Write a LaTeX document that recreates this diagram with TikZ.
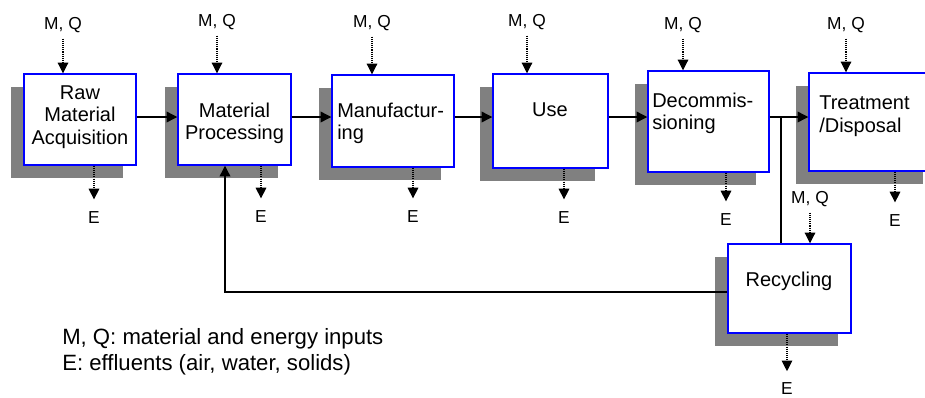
\documentclass[tikz,border=0pt]{standalone}
\usepackage{fontspec}
\setmainfont{Liberation Sans}
\usetikzlibrary{arrows.meta,shadows}

\begin{document}
\begin{tikzpicture}[x=0.75pt, y=-0.75pt,
        stage/.style 2 args={draw=blue, line width=1.1pt, fill=white, inner sep=0pt,
            minimum width=#1*0.75pt, minimum height=#2*0.75pt,
            general shadow={fill=gray, shadow xshift=-9.75pt, shadow yshift=-9.75pt}},
        stagetext/.style={font=\fontsize{15}{16.9}\selectfont, align=center, inner sep=0pt},
        lefttext/.style={stagetext, align=left, anchor=west},
        inlabel/.style={font=\fontsize{13}{15}\selectfont, inner sep=0pt, outer ysep=4.5pt},
        outlabel/.style={font=\fontsize{13}{15}\selectfont, inner sep=0pt, outer ysep=9.5pt},
        flow/.style={-{Triangle[length=8pt, width=8pt]}, line width=1pt},
        link/.style={line width=1pt},
        dots/.style={-{Triangle[length=8pt, width=8pt]}, line width=0.8pt, dash pattern=on 0.8pt off 0.8pt}
    ]
        \useasboundingbox (0,0) rectangle (925,397);

        % life cycle stages
        \node[stage={112}{91}] (raw) at (80, 119.5) {};
        \node[stage={113}{91}] (proc) at (234.5, 119.5) {};
        \node[stage={122}{92}] (manu) at (393, 121) {};
        \node[stage={115}{94}] (use) at (550.5, 121) {};
        \node[stage={121}{101}] (decom) at (708.5, 121.5) {};
        \node[stage={127}{98}] (treat) at (872.5, 122) {};
        \node[stage={123}{89}] (recyc) at (789.5, 288.5) {};

        \node[stagetext] (raw-t) at (80, 117) {Raw\\Material\\Acquisition};
        \node[stagetext] (proc-t) at (234.5, 123.5) {Material\\Processing};
        \node[lefttext] (manu-t) at (337, 123.5) {Manufactur-\\ing};
        \node[stagetext] (use-t) at (550, 110) {Use};
        \node[lefttext] (decom-t) at (652, 113.5) {Decommis-\\sioning};
        \node[lefttext] (treat-t) at (819, 116) {Treatment\\/Disposal};
        \node[stagetext] (recyc-t) at (789, 281) {Recycling};

        % inputs
        \node[inlabel] (mq1) at (63, 25) {M, Q};
        \node[inlabel] (mq2) at (217, 22) {M, Q};
        \node[inlabel] (mq3) at (372, 23) {M, Q};
        \node[inlabel] (mq4) at (527, 22) {M, Q};
        \node[inlabel] (mq5) at (683, 25) {M, Q};
        \node[inlabel] (mq6) at (846, 25) {M, Q};
        \node[inlabel] (mq7) at (810, 199) {M, Q};

        % effluents
        \node[outlabel] (e1) at (94, 218) {E};
        \node[outlabel] (e2) at (261, 217) {E};
        \node[outlabel] (e3) at (413, 217) {E};
        \node[outlabel] (e4) at (564, 218) {E};
        \node[outlabel] (e5) at (726, 220) {E};
        \node[outlabel] (e6) at (895, 221) {E};
        \node[outlabel] (e7) at (787, 388.5) {E};

        \draw[dots] (mq1) -- (mq1 |- raw.north);
        \draw[dots] (mq2) -- (mq2 |- proc.north);
        \draw[dots] (mq3) -- (mq3 |- manu.north);
        \draw[dots] (mq4) -- (mq4 |- use.north);
        \draw[dots] (mq5) -- (mq5 |- decom.north);
        \draw[dots] (mq6) -- (mq6 |- treat.north);
        \draw[dots] (mq7) -- (mq7 |- recyc.north);

        \draw[dots] (e1 |- raw.south) -- (e1);
        \draw[dots] (e2 |- proc.south) -- (e2);
        \draw[dots] (e3 |- manu.south) -- (e3);
        \draw[dots] (e4 |- use.south) -- (e4);
        \draw[dots] (e5 |- decom.south) -- (e5);
        \draw[dots] (e6 |- treat.south) -- (e6);
        \draw[dots] (e7 |- recyc.south) -- ([yshift=-1pt]e7.north);

        % main flow
        \coordinate (flow) at (0, 117);
        \draw[flow] (raw.east |- flow) -- (proc.west |- flow);
        \draw[flow] (proc.east |- flow) -- (manu.west |- flow);
        \draw[flow] (manu.east |- flow) -- (use.west |- flow);
        \draw[flow] (use.east |- flow) -- (decom.west |- flow);
        \draw[flow] (decom.east |- flow) -- (treat.west |- flow);

        % recycling loop
        \coordinate (split) at (781, 117);
        \coordinate (back) at (225, 292);
        \draw[link] (split) -- (split |- recyc.north);
        \draw[flow] (recyc.west |- back) -- (back) -- (back |- proc.south);

        \node[font=\fontsize{16.6}{19.7}\selectfont, align=left, anchor=west, inner sep=0pt] (key) at (62, 352)
            {M, Q: material and energy inputs\\E: effluents (air, water, solids)};
    \end{tikzpicture}
\end{document}
